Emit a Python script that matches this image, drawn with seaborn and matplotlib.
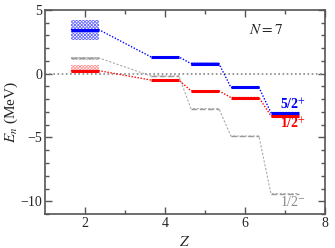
import numpy as np
import pandas as pd
import matplotlib
matplotlib.use("Agg")
import matplotlib.pyplot as plt
import seaborn as sns

# N=7 isotones, level energies relative to threshold (MeV)
Z = [2, 4, 5, 6, 7]
e_52p = [3.45, 1.32, 0.79, -1.08, -3.05]
e_12p = [0.24, -0.50, -1.34, -1.87, -3.31]
e_12m = [1.24, -0.18, -2.74, -4.89, -9.41]

# uncertainty bands (Z, low, high)
band_52p = [(2, 2.67, 4.20), (5, 0.63, 0.95)]
band_12p = [(2, 0.05, 0.69)]
band_12m = [(2, 1.10, 1.32)]

hw = 0.35

sns.set_theme(style="ticks")
plt.rcParams["font.family"] = ["Liberation Serif", "DejaVu Serif"]
plt.rcParams["mathtext.fontset"] = "stix"
plt.rcParams["xtick.direction"] = "in"
plt.rcParams["ytick.direction"] = "in"
plt.rcParams["xtick.top"] = True
plt.rcParams["ytick.right"] = True
plt.rcParams["hatch.linewidth"] = 0.6

def path(z, e):
    xs, ys = [], []
    for a, b in zip(z, e):
        xs += [a - hw, a + hw]
        ys += [b, b]
    return pd.DataFrame({"Z": xs, "E": ys})

fig = plt.figure(figsize=(3.35, 2.48), dpi=100)
ax = fig.add_axes([0.134, 0.137, 0.836, 0.823])

ax.axhline(0, color="#888888", lw=1.2, ls=(0, (1, 1.5)), zorder=1)

states = [
    (e_12m, band_12m, "#999999", "#bbbbbb"),
    (e_12p, band_12p, "red", "#ff9999"),
    (e_52p, band_52p, "blue", "#7070ff"),
]
for e, bands, c, lc in states:
    for z0, lo, hi in bands:
        ax.fill_between([z0 - hw, z0 + hw], lo, hi, facecolor="none",
                        edgecolor=lc, hatch="xxxxxxxxxx", linewidth=0, zorder=2)
    df = path(Z, e)
    if c == "#999999":
        sns.lineplot(data=df, x="Z", y="E", sort=False, estimator=None, ax=ax,
                     color="#aaaaaa", lw=0.8, ls=(0, (2, 1.5)), zorder=3)
        ax.hlines(e, np.array(Z) - hw, np.array(Z) + hw, colors="#999999",
                  lw=1.0, linestyles=(0, (4, 2)), zorder=4)
    else:
        sns.lineplot(data=df, x="Z", y="E", sort=False, estimator=None, ax=ax,
                     color=c, lw=1.0, ls=(0, (1, 1.2)), zorder=3)
        ax.hlines(e, np.array(Z) - hw, np.array(Z) + hw, colors=c,
                  lw=2.2, zorder=4)

ax.text(6.88, -2.44, r"5/2$^{+}$", color="blue", fontsize=10, fontweight="bold",
        va="center", ha="left")
ax.text(6.88, -3.89, r"1/2$^{+}$", color="red", fontsize=10, fontweight="bold",
        va="center", ha="left")
ax.text(6.88, -10.07, r"1/2$^{-}$", color="#888888", fontsize=10,
        va="center", ha="left")
ax.text(6.1, 3.4, r"$N = 7$", fontsize=11, va="center", ha="left")

ax.set_xlim(1, 8)
ax.set_ylim(-11, 5)
ax.set_xticks([2, 4, 6, 8])
ax.set_xticks([3, 5, 7], minor=True)
ax.set_yticks([-10, -5, 0, 5])
ax.set_yticks(np.arange(-11, 5, 1), minor=True)
ax.tick_params(which="major", length=5, width=1, color="#555555", labelsize=10, pad=2)
ax.tick_params(which="minor", length=3, width=1, color="#555555")
for s in ax.spines.values():
    s.set_color("#555555")
    s.set_linewidth(1.2)
ax.set_xlabel(r"$Z$", fontsize=11, labelpad=4)
ax.set_ylabel(r"$E_n$ (MeV)", fontsize=11, labelpad=0)

fig.savefig("out.png", dpi=100)
